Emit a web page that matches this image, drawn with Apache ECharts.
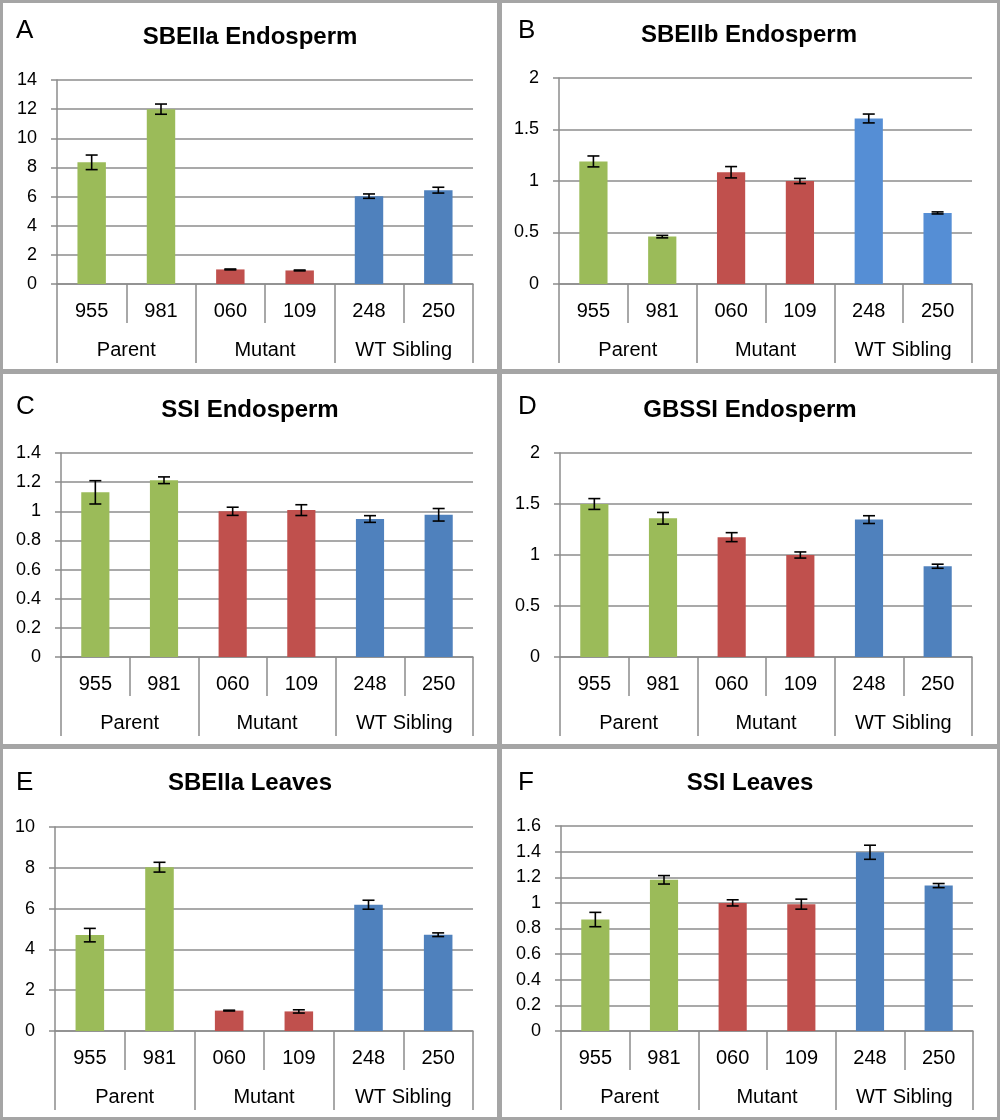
<!DOCTYPE html>
<html>
<head>
<meta charset="utf-8">
<script src="https://cdn.jsdelivr.net/npm/echarts@6/dist/echarts.min.js"></script>
<style>
html,body{margin:0;padding:0;background:#fff;}
#chart{width:1000px;height:1120px;}
</style>
</head>
<body>
<div id="chart"></div>
<script>
// ---------------- data ----------------
const categories = ['955', '981', '060', '109', '248', '250'];
const groups = ['Parent', 'Mutant', 'WT Sibling'];
const groupOfCategory = [0, 0, 1, 1, 2, 2];
const panelLetters = ['A', 'B', 'C', 'D', 'E', 'F'];
const panelTitles = ['SBEIIa Endosperm', 'SBEIIb Endosperm', 'SSI Endosperm', 'GBSSI Endosperm', 'SBEIIa Leaves', 'SSI Leaves'];

const sbe2aEndoMean = [8.35, 12.0, 1.0, 0.93, 6.03, 6.44];
const sbe2aEndoErr  = [0.5, 0.35, 0.03, 0.03, 0.15, 0.2];
const sbe2bEndoMean = [1.19, 0.46, 1.085, 1.0, 1.607, 0.69];
const sbe2bEndoErr  = [0.053, 0.012, 0.055, 0.025, 0.043, 0.01];
const ssiEndoMean   = [1.13, 1.213, 1.0, 1.008, 0.947, 0.976];
const ssiEndoErr    = [0.08, 0.023, 0.028, 0.037, 0.023, 0.043];
const gbssiEndoMean = [1.50, 1.36, 1.175, 1.0, 1.347, 0.89];
const gbssiEndoErr  = [0.053, 0.057, 0.044, 0.03, 0.038, 0.02];
const sbe2aLeafMean = [4.7, 8.03, 1.0, 0.96, 6.19, 4.72];
const sbe2aLeafErr  = [0.33, 0.24, 0.02, 0.08, 0.22, 0.09];
const ssiLeafMean   = [0.87, 1.18, 1.0, 0.99, 1.395, 1.135];
const ssiLeafErr    = [0.056, 0.033, 0.024, 0.039, 0.055, 0.016];

const panelMeans = [sbe2aEndoMean, sbe2bEndoMean, ssiEndoMean, gbssiEndoMean, sbe2aLeafMean, ssiLeafMean];
const panelErrs  = [sbe2aEndoErr, sbe2bEndoErr, ssiEndoErr, gbssiEndoErr, sbe2aLeafErr, ssiLeafErr];
const yMax  = [14, 2, 1.4, 2, 10, 1.6];
const yStep = [2, 0.5, 0.2, 0.5, 2, 0.2];

// ---------------- style / layout ----------------
const FONT = '"Liberation Sans", Arial, Helvetica, sans-serif';
const GREEN = '#9BBB59', RED = '#C0504D', BLUE = '#4F81BD', LIGHTBLUE = '#558ED5';
const panelGroupColors = [
  [GREEN, RED, BLUE], [GREEN, RED, LIGHTBLUE], [GREEN, RED, BLUE],
  [GREEN, RED, BLUE], [GREEN, RED, BLUE], [GREEN, RED, BLUE]
];
const GRIDC = '#8c8c8c';
const BORDER = '#a5a5a5';

// plot rectangles [left, top, width, height]
const plotRects = [
  [57, 80, 416, 204],
  [559, 78, 413, 206],
  [61, 453, 412, 204],
  [560, 453, 412, 204],
  [55, 827, 418, 204],
  [561, 826, 412, 205]
];
// panel (white) rectangles
const panelRects = [
  [3, 3, 494, 366], [502, 3, 495, 366],
  [3, 374, 494, 370], [502, 374, 495, 370],
  [3, 749, 494, 368], [502, 749, 495, 368]
];
const titlePos  = [[250, 37], [749, 35], [250, 410], [750, 410], [250, 783], [750, 783]];
const letterPos = [[16, 31], [518, 31], [16, 407], [518, 407], [16, 783], [518, 783]];

function renderErr(params, api) {
  const x = api.value(0), m = api.value(1), e = api.value(2);
  const top = api.coord([x, m + e]);
  const bot = api.coord([x, m - e]);
  const hw = 6;
  const style = { stroke: '#000', lineWidth: 1.6 };
  return {
    type: 'group',
    children: [
      { type: 'line', shape: { x1: top[0], y1: top[1], x2: bot[0], y2: bot[1] }, style: style },
      { type: 'line', shape: { x1: top[0] - hw, y1: top[1], x2: top[0] + hw, y2: top[1] }, style: style },
      { type: 'line', shape: { x1: bot[0] - hw, y1: bot[1], x2: bot[0] + hw, y2: bot[1] }, style: style }
    ]
  };
}

const grids = [], xAxes = [], yAxes = [], series = [], graphics = [];

graphics.push({ type: 'rect', z: -20, shape: { x: 0, y: 0, width: 1000, height: 1120 }, style: { fill: BORDER } });

for (let i = 0; i < 6; i++) {
  const r = plotRects[i];
  grids.push({ left: r[0], top: r[1], width: r[2], height: r[3], containLabel: false, outerBoundsMode: 'none' });
  const lineStyle = { color: GRIDC, width: 1.5 };
  xAxes.push({
    gridIndex: i, type: 'category', data: categories, position: 'bottom',
    axisLine: { show: true, lineStyle: lineStyle },
    axisTick: { show: true, interval: 0, length: 39, lineStyle: lineStyle },
    axisLabel: { interval: 0, margin: 17, fontSize: 20, color: '#000', fontFamily: FONT },
    splitLine: { show: false }, axisPointer: { show: false }
  });
  xAxes.push({
    gridIndex: i, type: 'category', data: groups, position: 'bottom',
    axisLine: { show: false },
    axisTick: { show: true, interval: 0, length: 79, lineStyle: lineStyle },
    axisLabel: { interval: 0, margin: 56, fontSize: 20, color: '#000', fontFamily: FONT },
    splitLine: { show: false }, axisPointer: { show: false }
  });
  yAxes.push({
    gridIndex: i, type: 'value', min: 0, max: yMax[i], interval: yStep[i],
    axisLine: { show: true, lineStyle: lineStyle },
    axisTick: { show: true, length: 6, lineStyle: lineStyle },
    splitLine: { show: true, lineStyle: lineStyle },
    axisLabel: { margin: 20, fontSize: 18, color: '#000', fontFamily: FONT }
  });
  const means = panelMeans[i], errs = panelErrs[i];
  series.push({
    type: 'bar', xAxisIndex: 2 * i, yAxisIndex: i, barWidth: '41%',
    data: means.map((v, k) => ({ value: v, itemStyle: { color: panelGroupColors[i][groupOfCategory[k]] } })),
    silent: true
  });
  series.push({
    type: 'custom', xAxisIndex: 2 * i, yAxisIndex: i, z: 5, silent: true,
    renderItem: renderErr,
    encode: { x: 0, y: 1 },
    data: means.map((v, k) => [k, v, errs[k]])
  });
  const p = panelRects[i];
  graphics.push({ type: 'rect', z: -10, shape: { x: p[0], y: p[1], width: p[2], height: p[3] }, style: { fill: '#fff' } });
  graphics.push({
    type: 'text', x: titlePos[i][0], y: titlePos[i][1],
    style: { text: panelTitles[i], fontSize: 24, fontWeight: 'bold', fontFamily: FONT, fill: '#000', align: 'center', verticalAlign: 'middle' }
  });
  graphics.push({
    type: 'text', x: letterPos[i][0], y: letterPos[i][1],
    style: { text: panelLetters[i], fontSize: 26, fontFamily: FONT, fill: '#000', align: 'left', verticalAlign: 'middle' }
  });
}

const chart = echarts.init(document.getElementById('chart'), null, { renderer: 'canvas' });
chart.setOption({
  animation: false,
  backgroundColor: '#fff',
  grid: grids,
  xAxis: xAxes,
  yAxis: yAxes,
  series: series,
  graphic: graphics
});
</script>
</body>
</html>
